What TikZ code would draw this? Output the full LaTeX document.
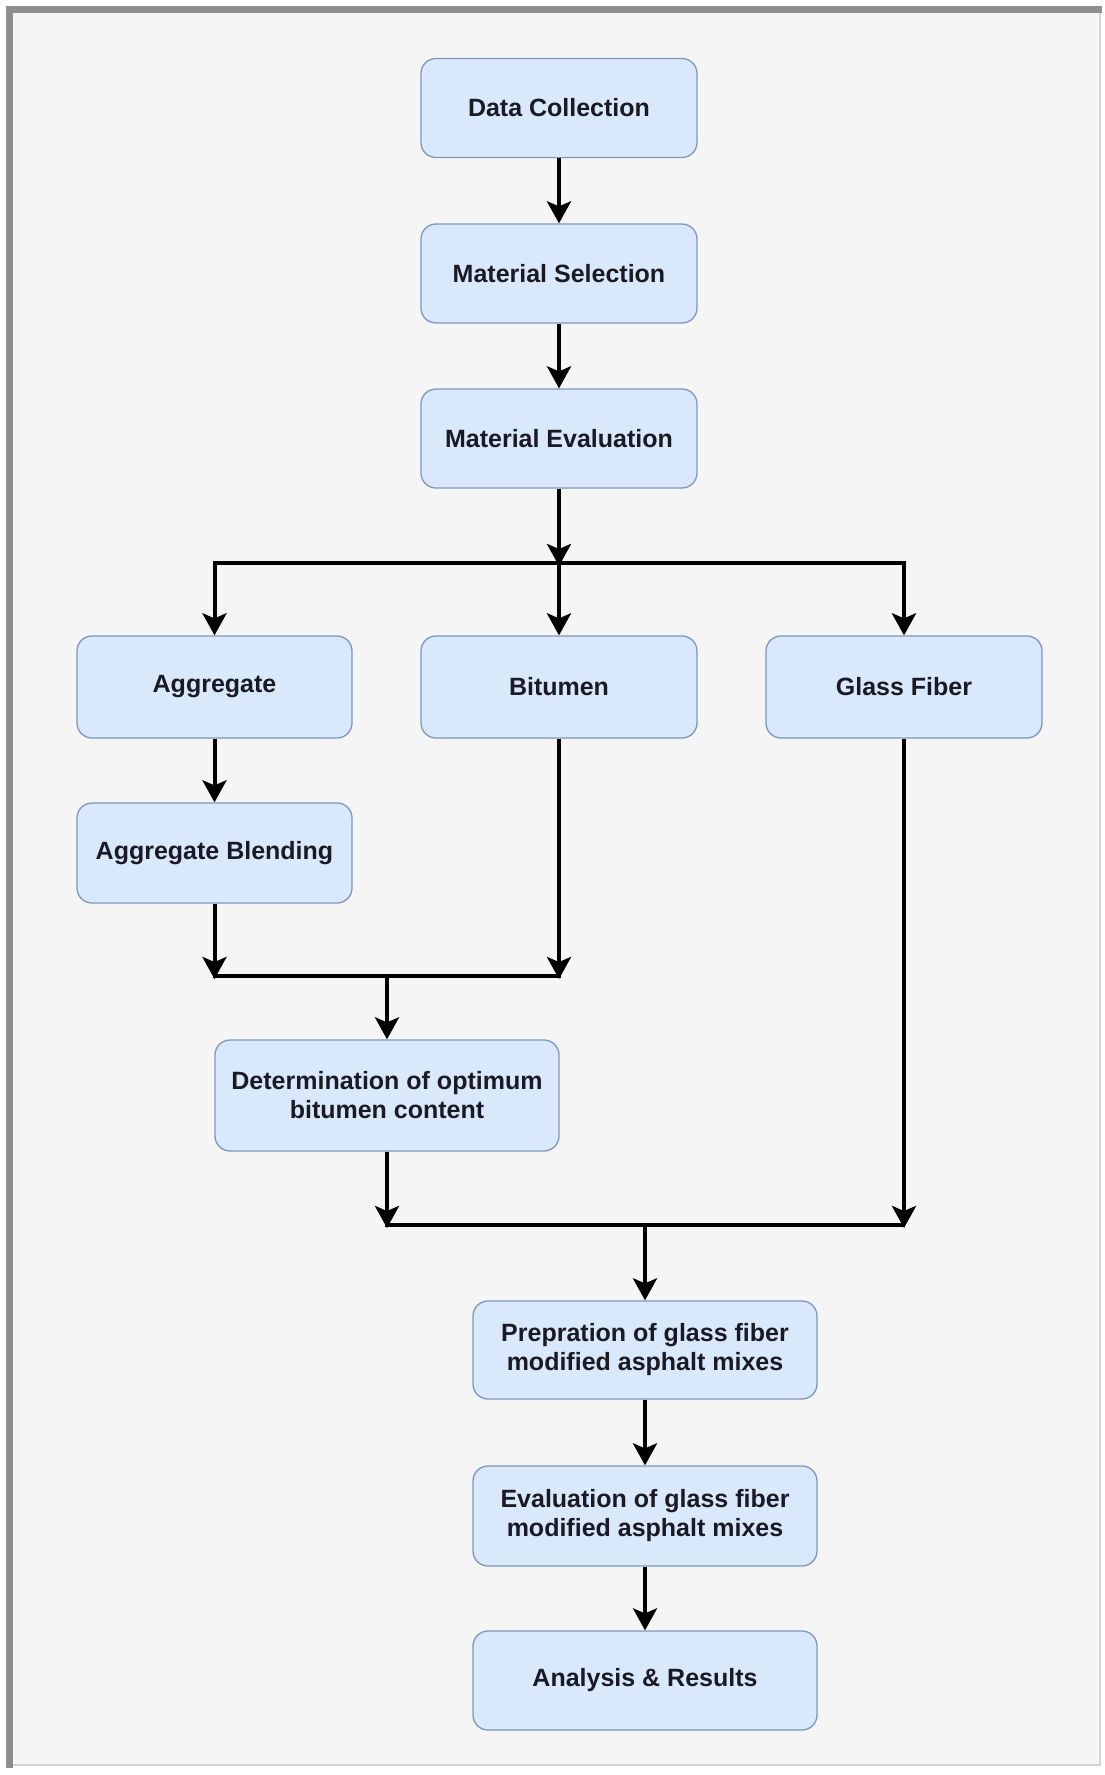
\documentclass[tikz,border=0pt]{standalone}
\usepackage{fontspec}
\setmainfont{Liberation Sans}
\usetikzlibrary{arrows.meta}
\definecolor{boxfill}{HTML}{DAE8FC}
\definecolor{boxdraw}{HTML}{7F97BD}
\definecolor{bgcol}{HTML}{F5F5F5}
\definecolor{framedark}{HTML}{8E8E8E}
\definecolor{framelight}{HTML}{D6D6D6}
\definecolor{txtcol}{HTML}{1A1A24}
\tikzset{
  procbox/.style={draw=boxdraw, line width=1.3pt, fill=boxfill, rounded corners=15pt,
    minimum width=#1, align=center, text=txtcol, font=\fontsize{25}{29}\selectfont\bfseries,
    inner sep=0pt},
  procbox/.default=276pt,
  flow/.style={line width=4pt, -{Stealth[length=22pt,width=24pt,inset=5pt]}},
  barline/.style={line width=4pt, line cap=butt}
}
\begin{document}
\begin{tikzpicture}[x=1pt,y=-1pt]
\useasboundingbox (0,0) rectangle (1105,1775);
% background and frame
\fill[white] (0,0) rectangle (1105,1775);
\fill[bgcol] (10,10) rectangle (1100,1765);
\draw[framelight, line width=2pt] (1100,10) -- (1100,1765) -- (10,1765);
\draw[framedark, line width=7pt] (9,1768) -- (9,9) -- (1102,9);
% boxes
\node[procbox, minimum height=99pt] (dc) at (559,108) {Data Collection};
\node[procbox, minimum height=99pt] (ms) at (559,273.5) {Material Selection};
\node[procbox, minimum height=99pt] (me) at (559,438.5) {Material Evaluation};
\node[procbox=275pt, minimum height=102pt] (agg) at (214.5,687) {Aggregate};
\node[procbox, minimum height=102pt] (bit) at (559,687) {Bitumen};
\node[procbox, minimum height=102pt] (gf) at (904,687) {Glass Fiber};
\node[procbox=275pt, minimum height=100pt] (ab) at (214.5,853) {Aggregate Blending};
\node[procbox=344pt, minimum height=111pt] (det) at (387,1095.5) {Determination of optimum\\bitumen content};
\node[procbox=344pt, minimum height=98pt] (prep) at (645,1350) {Prepration of glass fiber\\modified asphalt mixes};
\node[procbox=344pt, minimum height=100pt] (eval) at (645,1516) {Evaluation of glass fiber\\modified asphalt mixes};
\node[procbox=344pt, minimum height=99pt] (ar) at (645,1680.5) {Analysis \& Results};
% junction coordinates
\coordinate (b1l) at (213,563);
\coordinate (b1m) at (559,563);
\coordinate (b1r) at (905,563);
\coordinate (b2l) at (213,976);
\coordinate (b2m) at (387,976);
\coordinate (b2r) at (561,976);
\coordinate (b3l) at (385,1225);
\coordinate (b3m) at (645,1225);
\coordinate (b3r) at (905,1225);
% bars
\draw[barline] (b1l) -- (b1r);
\draw[barline] (b2l) -- (b2r);
\draw[barline] (b3l) -- (b3r);
% connectors
\draw[flow] (dc.south) -- (ms.north);
\draw[flow] (ms.south) -- (me.north);
\draw[flow] (me.south) -- ([yshift=-3pt]b1m);
\draw[flow] ([yshift=2pt]b1l -| agg.north) -- (agg.north);
\draw[flow] ([yshift=2pt]b1m) -- (bit.north);
\draw[flow] ([yshift=2pt]b1r -| gf.north) -- (gf.north);
\draw[flow] (agg.south) -- (ab.north);
\draw[flow] (ab.south) -- ([yshift=-3pt]b2l -| ab.south);
\draw[flow] (bit.south) -- ([yshift=-3pt]b2r -| bit.south);
\draw[flow] ([yshift=2pt]b2m) -- (det.north);
\draw[flow] (det.south) -- ([yshift=-3pt]b3l -| det.south);
\draw[flow] (gf.south) -- ([yshift=-3pt]b3r -| gf.south);
\draw[flow] ([yshift=2pt]b3m) -- (prep.north);
\draw[flow] (prep.south) -- (eval.north);
\draw[flow] (eval.south) -- (ar.north);
\end{tikzpicture}
\end{document}
